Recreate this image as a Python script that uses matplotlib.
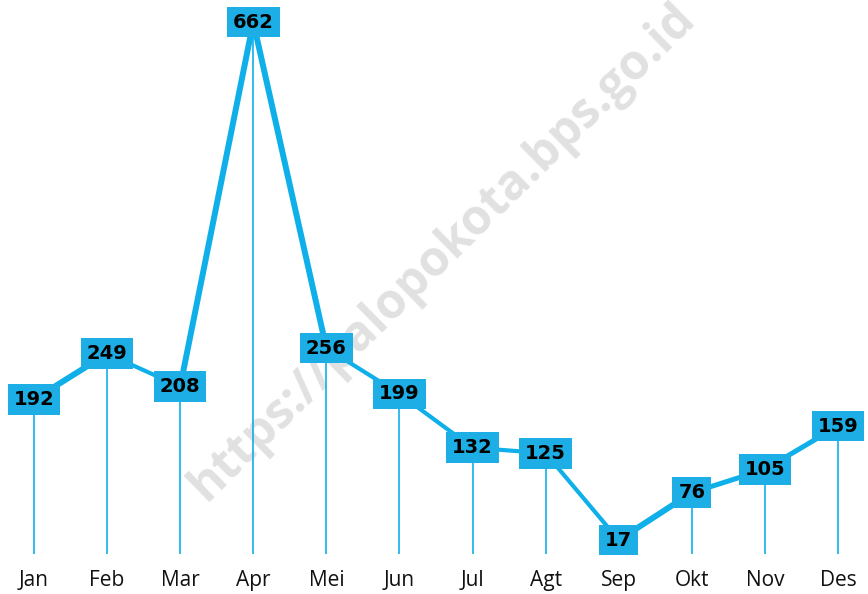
import matplotlib.pyplot as plt
import numpy as np

months = ['Jan', 'Feb', 'Mar', 'Apr', 'Mei', 'Jun', 'Jul', 'Agt', 'Sep', 'Okt', 'Nov', 'Des']
values = [192, 249, 208, 662, 256, 199, 132, 125, 17, 76, 105, 159]
# line thickness of each segment between two months (the source varies it)
seg_widths = [4.3, 3.0, 4.3, 4.3, 3.0, 3.0, 3.0, 3.0, 4.3, 3.6, 3.6]

line_col = '#0fb0ea'
box_col = '#1caee4'

fig = plt.figure(figsize=(8.68, 5.94), dpi=100)
ax = fig.add_axes([0, 0, 1, 1])
x = np.arange(len(months))

# watermark
ax.text(0.51, 0.575, 'https://palopokota.bps.go.id', transform=ax.transAxes,
        rotation=44.5, ha='center', va='center', fontsize=35, fontweight='bold',
        family='Open Sans', color='#e1e1e1', zorder=0)

# drop lines
ax.vlines(x, 0, values, color=line_col, lw=1.2, zorder=1)

# main line, segment by segment
for i in range(len(values) - 1):
    ax.plot(x[i:i + 2], values[i:i + 2], color=line_col, lw=seg_widths[i],
            solid_capstyle='round', zorder=2)

# value boxes
for xi, v in zip(x, values):
    ax.text(xi, v, str(v), ha='center', va='center', fontsize=14, fontweight='bold',
            family='DejaVu Sans', color='black', zorder=3,
            bbox=dict(boxstyle='square,pad=0.3', fc=box_col, ec='none'))

# month labels
for xi, m in zip(x, months):
    ax.text(xi, -34, m, ha='center', va='center', fontsize=15, family='Open Sans',
            color='#111111')

ax.set_xlim(-0.465, 11.41)
ax.set_ylim(-50.2, 689.5)
ax.axis('off')

fig.savefig('out.png', dpi=100)
